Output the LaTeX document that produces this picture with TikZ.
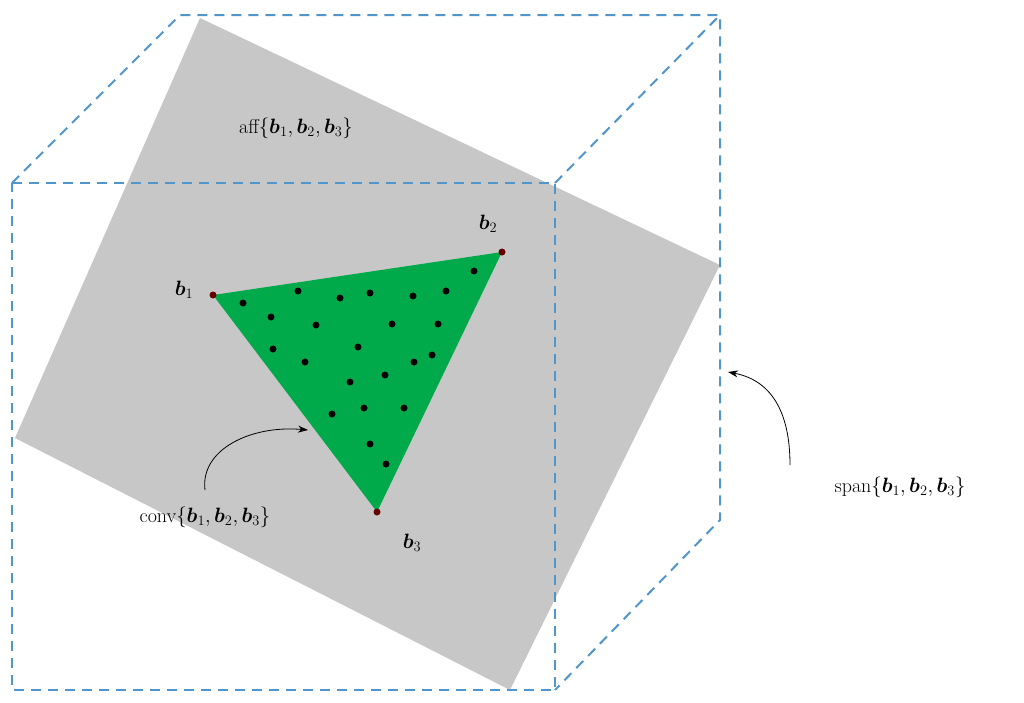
\documentclass[tikz,border=0pt]{standalone}
\usepackage{amsmath,bm}
\usetikzlibrary{arrows.meta}
\begin{document}
\begin{tikzpicture}[x=1pt,y=-1pt,
  cube/.style={draw=cubeblue,line width=2pt,dash pattern=on 10pt off 7pt},
  dot/.style={circle,fill=black,inner sep=0pt,minimum size=7pt},
  vert/.style={circle,fill=black!60!red,inner sep=0pt,minimum size=7pt},
  lab/.style={font=\fontsize{20}{24}\selectfont,inner sep=1pt},
  arr/.style={-{Stealth[length=10pt,width=7pt]},line width=0.8pt}]
\definecolor{cubeblue}{RGB}{80,150,205}
\definecolor{plane}{RGB}{200,199,200}
\definecolor{tri}{RGB}{0,170,75}
\useasboundingbox (0,0) rectangle (1024,702);
\fill[plane] (200,18) -- (720,265) -- (510,690) -- (15,438) -- cycle;
\coordinate (b1) at (213,295);
\coordinate (b2) at (502,252);
\coordinate (b3) at (377,512);
\fill[tri] (b1) -- (b2) -- (b3) -- cycle;
\foreach \p [count=\i] in {(243,303),(298,291),(340,298),(370,293),(413,296),(446,291),(474,271),(271,317),(316,325),(392,324),(438,324),(273,349),(305,362),(358,347),(414,362),(432,355),(350,382),(385,375),(332,414),(364,408),(404,408),(370,444),(386,464)}
  \node[dot] (d\i) at \p {};
\node[vert] (v1) at (b1) {};
\node[vert] (v2) at (b2) {};
\node[vert] (v3) at (b3) {};
\coordinate (f1) at (12,183); \coordinate (f2) at (555,183);
\coordinate (f3) at (555,690); \coordinate (f4) at (12,690);
\coordinate (k1) at (180,15); \coordinate (k2) at (720,15); \coordinate (k3) at (720,520);
\draw[cube] (f1) -- (f2) -- (f3) -- (f4) -- cycle;
\draw[cube] (f1) -- (k1) -- (k2) -- (k3) -- (f3);
\draw[cube] (f2) -- (k2);
\node[lab] (l1) at (184,290) {$\bm{b}_1$};
\node[lab] (l2) at (488,224) {$\bm{b}_2$};
\node[lab] (l3) at (412,543) {$\bm{b}_3$};
\node[lab] (aff) at (296,128) {aff$\{\bm{b}_1,\bm{b}_2,\bm{b}_3\}$};
\node[lab] (conv) at (205,517) {conv$\{\bm{b}_1,\bm{b}_2,\bm{b}_3\}$};
\node[lab] (span) at (900,487) {span$\{\bm{b}_1,\bm{b}_2,\bm{b}_3\}$};
\coordinate (cs) at (205,490);
\coordinate (ct) at (308,430);
\coordinate (ss) at (790,465);
\coordinate (st) at (728,372);
\draw[arr] (cs) .. controls (200,450) and (250,425) .. (ct);
\draw[arr] (ss) .. controls (790,410) and (770,380) .. (st);
\end{tikzpicture}
\end{document}
